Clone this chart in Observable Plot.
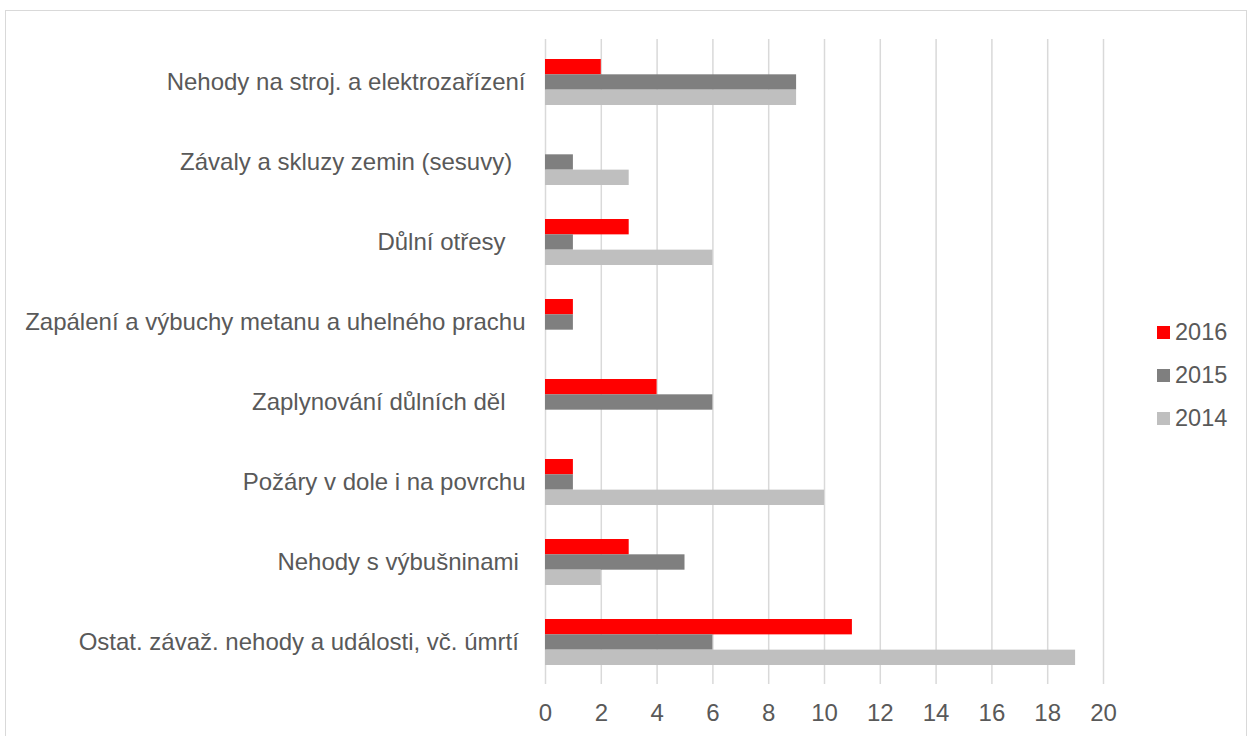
<!DOCTYPE html>
<html>
<head>
<meta charset="utf-8">
<script src="https://cdn.jsdelivr.net/npm/d3@7"></script>
<script src="https://cdn.jsdelivr.net/npm/@observablehq/plot@0.6"></script>
<style>
  html, body { margin: 0; padding: 0; background: #fff; }
  body { width: 1255px; height: 736px; position: relative; overflow: hidden; font-family: "Liberation Sans", Arial, sans-serif; }
  #frame { position: absolute; left: 5px; top: 10px; width: 1242px; height: 760px; border: 1.5px solid #D9D9D9; box-sizing: border-box; }
  #chart { position: absolute; left: 0; top: 0; }
  #legend { position: absolute; left: 1157px; top: 311px; color: #595959; font-size: 23.5px; }
  .item { display: flex; align-items: center; height: 43px; }
  .sw { width: 13px; height: 13px; margin-right: 5px; }
</style>
</head>
<body>
<div id="frame"></div>
<div id="chart"></div>
<div id="legend"></div>
<script>
const categories = [
  "Nehody na stroj. a elektrozařízení",
  "Závaly a skluzy zemin (sesuvy)\u00A0\u00A0",
  "Důlní otřesy\u00A0\u00A0\u00A0",
  "Zapálení a výbuchy metanu a uhelného prachu",
  "Zaplynování důlních děl\u00A0\u00A0\u00A0",
  "Požáry v dole i na povrchu",
  "Nehody s výbušninami\u00A0",
  "Ostat. závaž. nehody a události, vč. úmrtí\u00A0"
];
const years = ["2016", "2015", "2014"];
const values2016 = [2, 0, 3, 1, 4, 1, 3, 11];
const values2015 = [9, 1, 1, 1, 6, 1, 5, 6];
const values2014 = [9, 3, 6, 0, 0, 10, 2, 19];
const colors = ["#FF0000", "#7F7F7F", "#BFBFBF"];
const xTicks = [0, 2, 4, 6, 8, 10, 12, 14, 16, 18, 20];

const seriesValues = [values2016, values2015, values2014];

const W = 1255, H = 736;
const mt = 39, mb = 52, ml = 545, mr = 152;
const padInner = 0.43;
const step = (H - mt - mb) / categories.length;
const bw = step * (1 - padInner);
const third = bw / 3;

const marks = [
  Plot.ruleX(xTicks, {stroke: "#D9D9D9", strokeWidth: 1.5})
];
years.forEach((yr, i) => {
  const data = categories.map((c, j) => ({cat: c, value: seriesValues[i][j]}));
  marks.push(Plot.barX(data, {
    y: "cat", x: "value", fill: colors[i],
    insetTop: third * i,
    insetBottom: third * (2 - i)
  }));
});
marks.push(Plot.axisX({ticks: xTicks, tickSize: 0, tickPadding: 19, tickFormat: d => String(d), fontSize: 24, fill: "#595959", color: "#595959", label: null}));
marks.push(Plot.axisY({tickSize: 0, tickPadding: 20, fontSize: 24, fill: "#595959", color: "#595959", label: null}));

const chart = Plot.plot({
  width: W, height: H,
  marginTop: mt, marginBottom: mb, marginLeft: ml, marginRight: mr,
  style: {fontFamily: "'Liberation Sans', Arial, sans-serif", fontSize: "24px", background: "transparent", color: "#595959"},
  x: {domain: [0, 20], label: null},
  y: {domain: categories, paddingInner: padInner, paddingOuter: padInner / 2, label: null},
  marks
});
document.getElementById("chart").appendChild(chart);

const legend = document.getElementById("legend");
years.forEach((yr, i) => {
  const item = document.createElement("div");
  item.className = "item";
  const sw = document.createElement("div");
  sw.className = "sw";
  sw.style.background = colors[i];
  const t = document.createElement("span");
  t.textContent = yr;
  item.appendChild(sw);
  item.appendChild(t);
  legend.appendChild(item);
});
</script>
</body>
</html>
